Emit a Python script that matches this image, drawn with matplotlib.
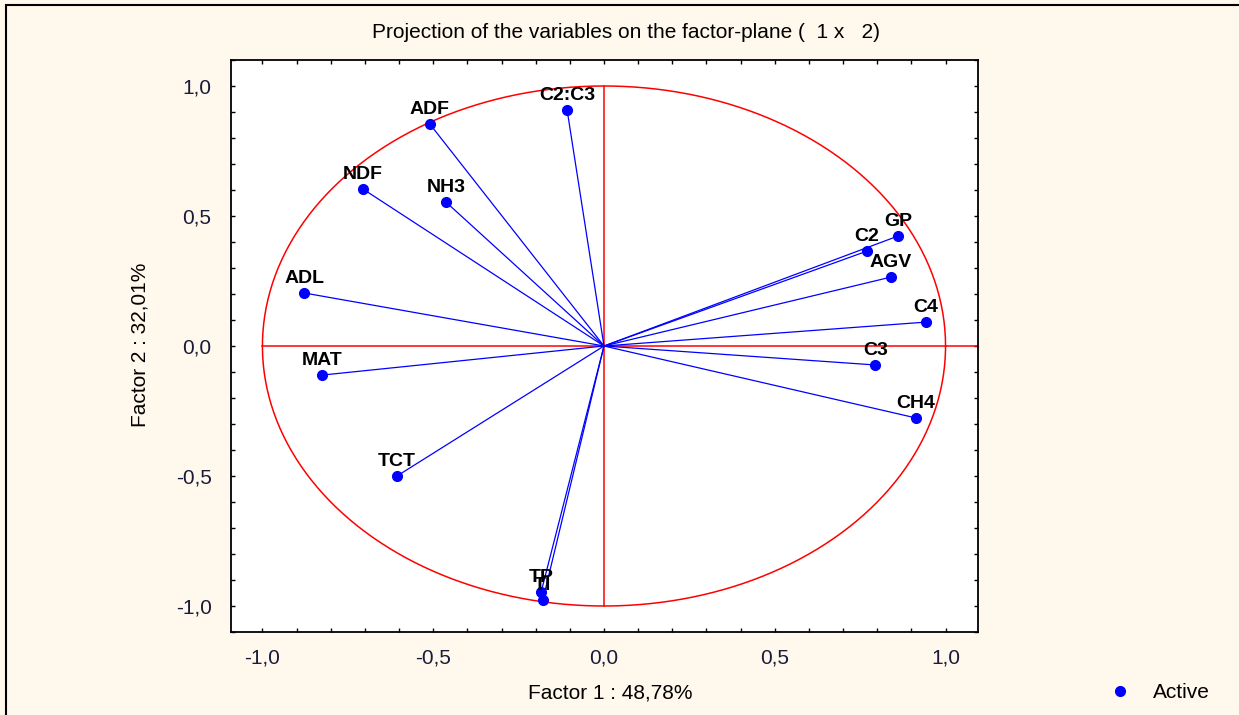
import matplotlib.pyplot as plt
import numpy as np
from matplotlib.ticker import FuncFormatter, MultipleLocator
from matplotlib.patches import Rectangle

plt.rcParams["font.family"] = ["Liberation Sans", "DejaVu Sans"]

# factor coordinates of the variables
variables = ["ADF", "C2:C3", "NDF", "NH3", "ADL", "MAT", "TCT", "TP", "TI",
             "GP", "C2", "AGV", "C4", "C3", "CH4"]
factor1 = [-0.51, -0.108, -0.706, -0.463, -0.878, -0.826, -0.606, -0.184, -0.179,
           0.861, 0.770, 0.840, 0.943, 0.794, 0.914]
factor2 = [0.854, 0.908, 0.604, 0.554, 0.204, -0.112, -0.50, -0.946, -0.977,
           0.423, 0.365, 0.265, 0.092, -0.073, -0.277]

fig = plt.figure(figsize=(12.39, 7.15), dpi=100, facecolor="#fff8ec")
fig.patches.append(Rectangle((6 / 1239, -0.01), 1.0, 1 - 5 / 715 + 0.01,
                             transform=fig.transFigure, fill=False,
                             edgecolor="black", linewidth=1.5))

ax = fig.add_axes([231 / 1239, 1 - 632 / 715, (978 - 231) / 1239, (632 - 60) / 715])
ax.set_facecolor("white")

# unit circle and axes through the origin
t = np.linspace(0, 2 * np.pi, 400)
ax.plot(np.cos(t), np.sin(t), color="red", lw=1.1)
ax.plot([-1, 1.2], [0, 0], color="red", lw=1.1)
ax.plot([0, 0], [-1, 1], color="red", lw=1.1)

for name, x, y in zip(variables, factor1, factor2):
    ax.plot([0, x], [0, y], color="blue", lw=0.9)
    ax.annotate(name, (x, y), xytext=(0, 10), textcoords="offset pixels",
                ha="center", va="baseline", fontsize=14, fontweight="bold")
ax.plot(factor1, factor2, "o", color="blue", markersize=7, label="Active")

ax.set_xlim(-1.092, 1.095)
ax.set_ylim(-1.1, 1.1)

fmt = FuncFormatter(lambda v, p: f"{v:.1f}".replace(".", ","))
for axis in (ax.xaxis, ax.yaxis):
    axis.set_major_locator(MultipleLocator(0.5))
    axis.set_minor_locator(MultipleLocator(0.1))
    axis.set_major_formatter(fmt)
ax.tick_params(which="both", direction="in", top=True, right=True, length=3,
               width=1, labelsize=15, labelcolor="#1a1a3a")
ax.tick_params(axis="y", pad=14)
ax.tick_params(axis="x", pad=12)
for s in ax.spines.values():
    s.set_linewidth(1.3)

fig.text(626 / 1239, 1 - 32 / 715, "Projection of the variables on the factor-plane (  1 x   2)",
         ha="center", va="center", fontsize=15)
fig.text(610 / 1239, 1 - 693 / 715, "Factor 1 : 48,78%", ha="center", va="center", fontsize=15)
fig.text(140 / 1239, 1 - 345 / 715, "Factor 2 : 32,01%", ha="center", va="center",
         rotation=90, fontsize=15)

fig.legend(loc="center left", bbox_to_anchor=(1080 / 1239, 1 - 693 / 715), frameon=False,
           fontsize=15, handletextpad=0.6)

fig.savefig("out.png", dpi=100, facecolor=fig.get_facecolor())
